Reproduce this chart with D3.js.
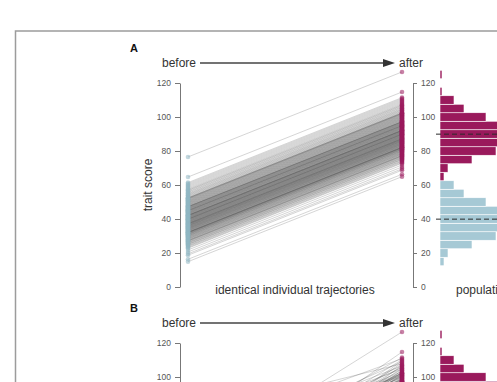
<!DOCTYPE html>
<html><head><meta charset="utf-8">
<script src="https://cdn.jsdelivr.net/npm/d3@7"></script>
<style>
body{margin:0;background:#fff}
svg{display:block}
text{font-family:"Liberation Sans", Arial, sans-serif}
</style>
</head><body>
<svg id="chart" width="497" height="382"></svg>
<script>
// ---------- data ----------
const scoreTicks = [0, 20, 40, 60, 80, 100, 120];
const panelLabels = ["A", "B"];
const stageLabels = ["before", "after"];
const captionA = "identical individual trajectories";
const captionHist = "population distributions";

// trait score of each individual before (panel A, sorted)
const beforeScoresA = [
 14.9, 16.3,
 18.7, 19.5, 20.6, 21.8,
 22.8, 23.2, 23.7, 24.1, 24.4, 24.9, 25.1, 25.4, 25.8, 26.0, 26.3, 26.6, 26.9, 27.1, 27.2, 27.4,
 27.6, 27.9, 28.1, 28.4, 28.5, 28.8, 29.0, 29.2, 29.5, 29.6, 29.9, 30.1, 30.2, 30.4, 30.7, 30.8, 31.0, 31.1, 31.3, 31.5, 31.6, 31.8, 31.9, 32.0, 32.1, 32.2, 32.3, 32.4,
 32.6, 32.8, 33.0, 33.1, 33.3, 33.4, 33.6, 33.8, 33.9, 34.1, 34.2, 34.4, 34.5, 34.7, 34.8, 35.0, 35.1, 35.3, 35.4, 35.6, 35.7, 35.9, 36.0, 36.1, 36.3, 36.4, 36.6, 36.7, 36.8, 37.0, 37.1, 37.2, 37.3, 37.4,
 37.6, 37.7, 37.9, 38.0, 38.2, 38.3, 38.5, 38.6, 38.8, 38.9, 39.1, 39.2, 39.4, 39.5, 39.7, 39.8, 39.9, 40.0, 40.1, 40.3, 40.4, 40.6, 40.7, 40.9, 41.0, 41.2, 41.3, 41.5, 41.6, 41.8, 41.9, 42.0, 42.1, 42.2, 42.3, 42.4,
 42.6, 42.8, 43.0, 43.1, 43.3, 43.5, 43.6, 43.8, 44.0, 44.1, 44.3, 44.5, 44.6, 44.8, 44.9, 45.0, 45.1, 45.3, 45.5, 45.6, 45.8, 46.0, 46.1, 46.3, 46.5, 46.6, 46.8, 47.0, 47.1, 47.2, 47.3, 47.4,
 47.6, 47.9, 48.1, 48.3, 48.6, 48.8, 49.0, 49.3, 49.5, 49.7, 50.0, 50.2, 50.4, 50.7, 50.9, 51.1, 51.4, 51.6, 51.8, 52.0, 52.2, 52.3, 52.4,
 52.7, 53.1, 53.5, 53.9, 54.3, 54.7, 55.1, 55.6, 56.0, 56.5, 56.9, 57.3,
 57.8, 58.4, 59.0, 59.6, 60.2, 60.8, 61.4,
 64.7,
 76.5
];

// trait score of each individual after (sorted; shared by both panels)
const afterScores = [
 64.9, 66.3,
 68.7, 69.5, 70.6, 71.8,
 72.8, 73.2, 73.7, 74.1, 74.4, 74.9, 75.1, 75.4, 75.8, 76.0, 76.3, 76.6, 76.9, 77.1, 77.2, 77.4,
 77.6, 77.9, 78.1, 78.4, 78.5, 78.8, 79.0, 79.2, 79.5, 79.6, 79.9, 80.1, 80.2, 80.4, 80.7, 80.8, 81.0, 81.1, 81.3, 81.5, 81.6, 81.8, 81.9, 82.0, 82.1, 82.2, 82.3, 82.4,
 82.6, 82.8, 83.0, 83.1, 83.3, 83.4, 83.6, 83.8, 83.9, 84.1, 84.2, 84.4, 84.5, 84.7, 84.8, 85.0, 85.1, 85.3, 85.4, 85.6, 85.7, 85.9, 86.0, 86.1, 86.3, 86.4, 86.6, 86.7, 86.8, 87.0, 87.1, 87.2, 87.3, 87.4,
 87.6, 87.7, 87.9, 88.0, 88.2, 88.3, 88.5, 88.6, 88.8, 88.9, 89.1, 89.2, 89.4, 89.5, 89.7, 89.8, 89.9, 90.0, 90.1, 90.3, 90.4, 90.6, 90.7, 90.9, 91.0, 91.2, 91.3, 91.5, 91.6, 91.8, 91.9, 92.0, 92.1, 92.2, 92.3, 92.4,
 92.6, 92.8, 93.0, 93.1, 93.3, 93.5, 93.6, 93.8, 94.0, 94.1, 94.3, 94.5, 94.6, 94.8, 94.9, 95.0, 95.1, 95.3, 95.5, 95.6, 95.8, 96.0, 96.1, 96.3, 96.5, 96.6, 96.8, 97.0, 97.1, 97.2, 97.3, 97.4,
 97.6, 97.9, 98.1, 98.3, 98.6, 98.8, 99.0, 99.3, 99.5, 99.7, 100.0, 100.2, 100.4, 100.7, 100.9, 101.1, 101.4, 101.6, 101.8, 102.0, 102.2, 102.3, 102.4,
 102.7, 103.1, 103.5, 103.9, 104.3, 104.7, 105.1, 105.6, 106.0, 106.5, 106.9, 107.3,
 107.8, 108.4, 109.0, 109.6, 110.2, 110.8, 111.4,
 114.7,
 126.5
];

// panel B: same population before, but individuals paired differently with afterScores
const beforeScoresB = [
 42.4, 42.3, 42.2, 37.4, 37.3, 42.1,
 47.4, 37.2, 42.0, 41.9, 47.3, 37.1, 37.0, 41.8, 47.2, 47.1, 36.8, 41.6,
 32.4, 41.5, 36.7, 47.0, 41.3, 36.6, 46.8, 32.3, 46.6, 32.2, 41.2, 36.4, 36.3, 41.0, 32.1, 46.5, 32.0, 46.3, 36.1, 40.9,
 40.7, 31.9, 46.1, 52.4, 36.0, 35.9, 40.6, 52.3, 31.8, 46.0, 45.8, 52.2, 31.6, 35.7, 40.4,
 31.5, 35.6, 40.3, 45.6, 52.0, 51.8, 45.5, 35.4, 40.1, 31.3, 40.0, 31.1, 45.3, 51.6, 35.3,
 35.1, 51.4, 31.0, 45.1, 39.9,
 45.0, 39.8, 35.0, 27.4, 51.1, 30.8, 50.9, 27.2, 44.9, 30.7, 39.7, 34.8,
 30.4, 34.7, 50.7, 39.5, 27.1, 44.8, 39.4, 44.6, 26.9, 34.5, 30.2, 50.4,
 26.6, 30.1, 39.2, 50.2, 44.5, 34.4, 57.3, 34.2, 56.9, 44.3, 29.9, 50.0, 26.3, 39.1,
 49.7, 38.9, 29.6, 26.0, 56.5, 44.1, 34.1, 44.0, 25.8, 56.0, 38.8, 33.9, 49.5, 29.5,
 29.2, 49.3, 33.8, 55.6, 38.6, 25.4, 43.8,
 55.1, 33.6, 49.0, 25.1, 29.0, 61.4, 38.5, 43.6,
 24.9, 43.5, 60.8, 33.4, 48.8, 38.3, 54.7, 28.8,
 38.2, 54.3, 28.5, 60.2, 43.3, 24.4, 48.6, 33.3,
 48.3, 24.1, 38.0, 21.8, 53.9, 28.4, 43.1, 59.6, 33.1,
 33.0, 59.0, 23.7, 43.0, 20.6, 48.1, 28.1, 53.5, 37.9,
 42.8, 19.5, 53.1, 27.9, 16.3, 37.7, 58.4, 23.2, 47.9, 32.8,
 57.8, 14.9, 37.6, 76.5, 22.8, 52.7, 18.7, 32.6, 64.7, 42.6, 27.6, 47.6
];

const panels = [
  {label: panelLabels[0], before: beforeScoresA, after: afterScores, caption: captionA},
  {label: panelLabels[1], before: beforeScoresB, after: afterScores, caption: null}
];

// ---------- layout ----------
const svg = d3.select("#chart");
const panelOffsets = [0, 260];
const colBlue = "#a6c9d5", colPurple = "#9a1a5c";
const ptBlue = "#8fb6c2", ptPurple = "#9a1a5c";
const labelFont = "Lato, 'Open Sans', sans-serif";

svg.append("rect")
  .attr("x", 15.5).attr("y", 31).attr("width", 700).attr("height", 800)
  .attr("fill", "none").attr("stroke", "#9c9c9c").attr("stroke-width", 1.5);

const y = d3.scaleLinear().domain([0, 120]).range([287, 83]);
const xStage = d3.scalePoint().domain(stageLabels).range([188, 402]);
const hx = d3.scaleLinear().domain([0, 40]).range([440, 520]);
const binner = d3.bin().domain([-2.5, 137.5]).thresholds(d3.range(2.5, 137.5, 5));

panels.forEach((p, pi) => {
  const g = svg.append("g").attr("transform", `translate(0,${panelOffsets[pi]})`);

  g.append("text").attr("x", 130).attr("y", 52).text(p.label)
    .attr("font-size", 11).attr("font-weight", "bold").attr("fill", "#111");

  g.append("text").attr("x", 196).attr("y", 67).attr("text-anchor", "end")
    .attr("font-family", labelFont).attr("font-size", 12).attr("fill", "#333").text(stageLabels[0]);
  g.append("text").attr("x", 399).attr("y", 67)
    .attr("font-family", labelFont).attr("font-size", 12).attr("fill", "#333").text(stageLabels[1]);
  g.append("line").attr("x1", 200).attr("x2", 386).attr("y1", 63).attr("y2", 63)
    .attr("stroke", "#444").attr("stroke-width", 1.6);
  g.append("path").attr("d", "M383,59 L395,63 L383,67 Z").attr("fill", "#333");

  // axes
  const axL = g.append("g").attr("transform", "translate(180,0)")
    .call(d3.axisLeft(y).tickValues(scoreTicks).tickSize(5).tickSizeOuter(0).tickPadding(4));
  const axR = g.append("g").attr("transform", "translate(413,0)")
    .call(d3.axisRight(y).tickValues(scoreTicks).tickSize(4).tickSizeOuter(0).tickPadding(4));
  [axL, axR].forEach(ax => {
    ax.selectAll("path,line").attr("stroke", "#777");
    ax.selectAll("text").attr("font-size", 8.5).attr("fill", "#555").attr("font-family", "Liberation Sans, Arial, sans-serif");
  });

  g.append("text").attr("transform", `translate(152,${y(60)}) rotate(-90)`)
    .attr("text-anchor", "middle").attr("font-family", labelFont)
    .attr("font-size", 12).attr("fill", "#333").text("trait score");

  // trajectories
  const idx = d3.range(p.before.length);
  g.append("g").selectAll("line").data(idx).join("line")
    .attr("x1", xStage(stageLabels[0])).attr("y1", i => y(p.before[i]))
    .attr("x2", xStage(stageLabels[1])).attr("y2", i => y(p.after[i]))
    .attr("stroke", "#333").attr("stroke-opacity", 0.26).attr("stroke-width", 0.8);

  g.append("g").selectAll("circle").data(p.before).join("circle")
    .attr("cx", xStage(stageLabels[0])).attr("cy", d => y(d)).attr("r", 2.3)
    .attr("fill", ptBlue).attr("fill-opacity", 0.55);
  g.append("g").selectAll("circle").data(p.after).join("circle")
    .attr("cx", xStage(stageLabels[1])).attr("cy", d => y(d)).attr("r", 2.3)
    .attr("fill", ptPurple).attr("fill-opacity", 0.55);

  // histograms
  const drawHist = (vals, col) => {
    const bins = binner(vals).filter(b => b.length > 0);
    g.append("g").selectAll("rect").data(bins).join("rect")
      .attr("x", hx(0)).attr("y", b => y(b.x1)).attr("height", b => y(b.x0) - y(b.x1))
      .attr("width", b => hx(b.length) - hx(0))
      .attr("fill", col).attr("stroke", "#fff").attr("stroke-width", 0.6);
  };
  drawHist(p.before, colBlue);
  drawHist(p.after, colPurple);

  [d3.mean(p.before), d3.mean(p.after)].forEach(m => {
    g.append("line").attr("x1", 436).attr("x2", 520).attr("y1", y(m)).attr("y2", y(m))
      .attr("stroke", "#2a2a2a").attr("stroke-width", 1).attr("stroke-dasharray", "5,3");
  });

  if (p.caption) {
    g.append("text").attr("x", 295).attr("y", 294).attr("text-anchor", "middle")
      .attr("font-family", labelFont).attr("font-size", 12).attr("fill", "#333").text(p.caption);
  }
  g.append("text").attr("x", 456).attr("y", 294)
    .attr("font-family", labelFont).attr("font-size", 12).attr("fill", "#333").text(captionHist);
});
</script>
</body></html>
